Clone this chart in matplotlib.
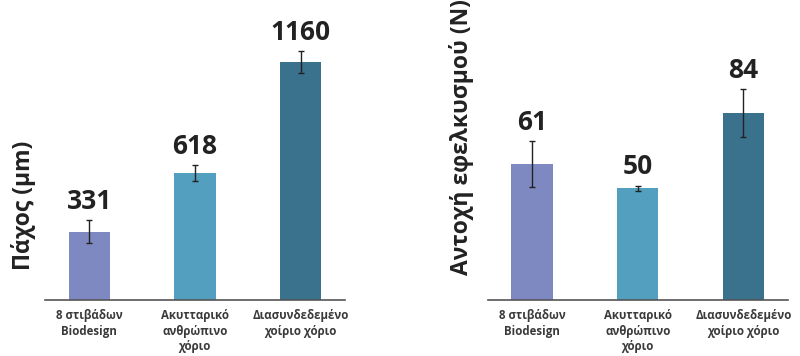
import numpy as np
from matplotlib import pyplot as plt

plt.rcParams['font.family'] = ['Open Sans', 'DejaVu Sans']

categories = ['8 στιβάδων\nBiodesign', 'Ακυτταρικό\nανθρώπινο\nχόριο',
              'Διασυνδεδεμένο\nχοίριο χόριο']
colors = ['#7f89c1', '#529fbf', '#3a728d']

thickness = [331, 618, 1160]
thickness_err = [57, 39, 53]
strength = [61, 50, 84]
strength_err = [10.5, 1.3, 10.9]

fig = plt.figure(figsize=(8, 3.56), dpi=100)
W, H = 800., 356.


def panel(left_px, values, errs, ymax, ylabel, label_xy):
    ax = fig.add_axes([left_px / W, 56.5 / H, 300 / W, 299.5 / H])
    x = np.arange(len(values))
    ax.bar(x, values, width=0.39, color=colors, zorder=2)
    ax.errorbar(x, values, yerr=errs, fmt='none', ecolor='#222222',
                elinewidth=1.0, capsize=2.5, capthick=1.0, zorder=3)
    for xi, v, e in zip(x, values, errs):
        ax.annotate(str(v), (xi, v + e), xytext=(0, 8), textcoords='offset points',
                    ha='center', va='baseline', fontsize=19, fontweight='bold',
                    color='#222222')
    ax.set_xlim(-0.42, 2.42)
    ax.set_ylim(0, ymax)
    ax.set_yticks([])
    ax.set_xticks(x)
    ax.set_xticklabels(categories, fontsize=8.3, fontweight='bold',
                       color='#3a3a3a', linespacing=1.25)
    ax.tick_params(axis='x', length=0, pad=7)
    for s in ['top', 'right', 'left']:
        ax.spines[s].set_visible(False)
    ax.spines['bottom'].set_color('#555555')
    ax.spines['bottom'].set_linewidth(1.2)
    ax.patch.set_alpha(0)
    fig.text(label_xy[0] / W, 1 - label_xy[1] / H, ylabel, rotation=90,
             ha='center', va='center', fontsize=16.5, fontweight='bold',
             color='#222222')
    return ax


panel(45, thickness, thickness_err, 1462, 'Πάχος (μm)', (24, 205))
panel(487.7, strength, strength_err, 134.8, 'Αντοχή εφελκυσμού (N)', (462, 137))

fig.savefig('out.png', dpi=100)
